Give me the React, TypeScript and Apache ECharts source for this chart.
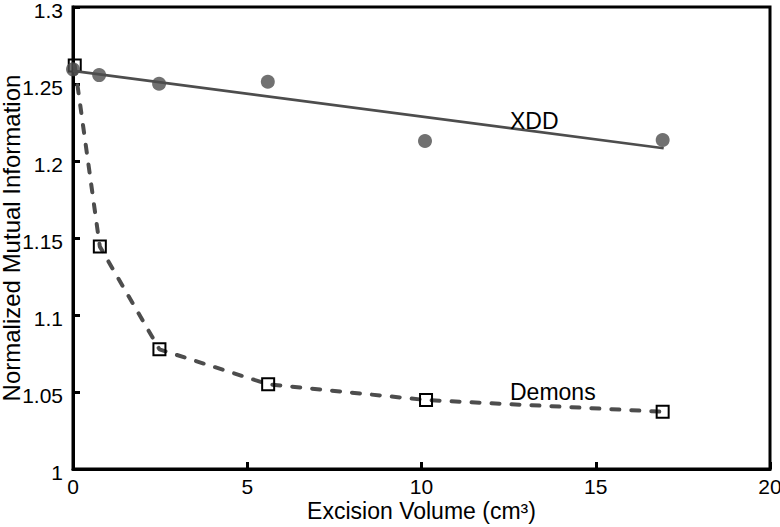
import React, { useEffect, useRef } from "react";
import * as echarts from "echarts";

const xddX = [0, 0.75, 2.47, 5.59, 10.1, 16.92];
const xddY = [1.2595, 1.2558, 1.2502, 1.2515, 1.213, 1.2136];
const xddFitX = [0, 16.95];
const xddFitY = [1.2585, 1.2083];
const demonsX = [0.05, 0.77, 2.48, 5.6, 10.13, 16.92];
const demonsY = [1.262, 1.1444, 1.0777, 1.055, 1.0448, 1.0372];
const xTicks = [0, 5, 10, 15, 20];
const yTicks = [1, 1.05, 1.1, 1.15, 1.2, 1.25, 1.3];

const FONT = "'Liberation Sans', Arial, Helvetica, sans-serif";
const GRAY = "#4d4d4d";

export default function App() {
  const ref = useRef<HTMLDivElement>(null);
  useEffect(() => {
    if (!ref.current) return;
    const chart = echarts.init(ref.current, null, { renderer: "svg" });
    const zip = (xs: number[], ys: number[]) => xs.map((x, i) => [x, ys[i]]);
    chart.setOption({
      animation: false,
      backgroundColor: "#ffffff",
      textStyle: { fontFamily: FONT },
      grid: {
        left: 73,
        right: 10,
        top: 7,
        bottom: 58,
        containLabel: false,
        outerBoundsMode: "none",
        show: true,
        borderColor: "#000",
        borderWidth: 3,
        backgroundColor: "transparent",
      },
      xAxis: {
        type: "value",
        min: xTicks[0],
        max: xTicks[xTicks.length - 1],
        interval: 5,
        name: "Excision Volume (cm³)",
        nameLocation: "middle",
        nameGap: 30,
        nameMoveOverlap: false,
        nameTextStyle: { fontSize: 23, color: "#000", fontFamily: FONT },
        axisLine: { show: true, lineStyle: { color: "#000", width: 3 } },
        axisTick: { show: true, inside: true, length: 7, lineStyle: { color: "#000", width: 3 } },
        axisLabel: { fontSize: 21, color: "#000", margin: 7, fontFamily: FONT },
        splitLine: { show: false },
      },
      yAxis: {
        type: "value",
        min: yTicks[0],
        max: yTicks[yTicks.length - 1],
        interval: 0.05,
        name: "Normalized Mutual Information",
        nameLocation: "middle",
        nameGap: 50,
        nameMoveOverlap: false,
        nameTextStyle: { fontSize: 24, color: "#000", fontFamily: FONT },
        axisLine: { show: true, lineStyle: { color: "#000", width: 3 } },
        axisTick: { show: true, inside: true, length: 7, lineStyle: { color: "#000", width: 3 } },
        axisLabel: {
          color: "#000",
          margin: 10,
          fontFamily: FONT,
          fontSize: 21,
          formatter: (v: number) => `{a|${v}}`,
          rich: {
            a: { fontSize: 21, fontFamily: FONT, color: "#000", padding: [7, 0, 0, 0] },
          },
        },
        splitLine: { show: false },
      },
      series: [
        {
          name: "Demons",
          type: "line",
          data: zip(demonsX, demonsY),
          symbol: "rect",
          symbolSize: 12,
          itemStyle: { color: "rgba(0,0,0,0)", borderColor: "#000", borderWidth: 2 },
          lineStyle: { color: GRAY, width: 4, type: [8, 12], cap: "round" },
          z: 2,
        },
        {
          name: "XDD fit",
          type: "line",
          data: zip(xddFitX, xddFitY),
          symbol: "none",
          lineStyle: { color: GRAY, width: 2.7 },
          z: 3,
        },
        {
          name: "XDD",
          type: "scatter",
          data: zip(xddX, xddY),
          symbol: "circle",
          symbolSize: 14,
          itemStyle: { color: GRAY },
          z: 4,
        },
      ],
      graphic: [
        {
          type: "text",
          left: 510,
          top: 109,
          style: { text: "XDD", fontSize: 23, fill: "#000", fontFamily: FONT },
          z: 10,
        },
        {
          type: "text",
          left: 510,
          top: 380,
          style: { text: "Demons", fontSize: 23, fill: "#000", fontFamily: FONT },
          z: 10,
        },
      ],
    });
    return () => chart.dispose();
  }, []);
  return (
    <div
      ref={ref}
      style={{ position: "fixed", left: 0, top: 0, width: 780, height: 527, background: "#fff" }}
    />
  );
}
